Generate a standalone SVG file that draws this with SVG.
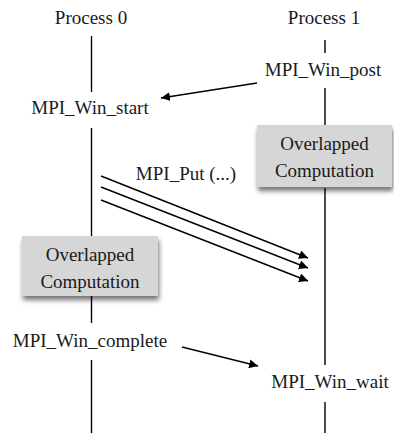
<svg xmlns="http://www.w3.org/2000/svg" width="394" height="433" viewBox="0 0 394 433">
<style>
text{font-size:19px;fill:#1a1a1a;text-anchor:middle}
.life{stroke:#000;stroke-width:1.4;fill:none}
.arr{stroke:#000;stroke-width:1.4;fill:none;marker-end:url(#ah)}
.box{fill:#d6d6d6;filter:url(#sh)}
</style>
<defs>
<marker id="ah" viewBox="0 0 10 10" refX="10" refY="5" markerWidth="9" markerHeight="9" markerUnits="userSpaceOnUse" orient="auto"><path d="M0,0 L10,5 L0,10 z" fill="#000"/></marker>
<filter id="sh" x="-20%" y="-20%" width="140%" height="150%"><feDropShadow dx="1" dy="4" stdDeviation="2.5" flood-color="#000" flood-opacity="0.55"/></filter>
</defs>
<g id="lifelines">
<path class="life" d="M91.5,36V92M91.5,128V236M91.5,296V323M91.5,360V433"/>
<path class="life" d="M325,40V53M325,88V125M325,188V365M325,402V433"/>
</g>
<g font-family="'Liberation Serif', 'Times New Roman', 'DejaVu Serif', serif">
<g id="process0"><text x="91" y="24">Process 0</text></g>
<g id="process1"><text x="324" y="24">Process 1</text></g>
<g id="win_post"><text x="323" y="76">MPI_Win_post</text></g>
<g id="win_start"><text x="90" y="114">MPI_Win_start</text></g>
<g id="overlap1"><rect class="box" x="257" y="125" width="135" height="62"/><text x="324.5" y="150">Overlapped</text><text x="324.5" y="177">Computation</text></g>
<g id="overlap0"><rect class="box" x="22" y="236" width="136" height="60"/><text x="90" y="261">Overlapped</text><text x="90" y="288">Computation</text></g>
<g id="put_label"><text x="186" y="180">MPI_Put (...)</text></g>
<g id="win_complete"><text x="90" y="347">MPI_Win_complete</text></g>
<g id="win_wait"><text x="330" y="388">MPI_Win_wait</text></g>
</g>
<g id="connectors">
<line class="arr" x1="257" y1="83" x2="161" y2="98"/>
<line class="arr" x1="101" y1="176" x2="308" y2="258"/>
<line class="arr" x1="101" y1="187" x2="308" y2="268"/>
<line class="arr" x1="101" y1="200" x2="308" y2="281"/>
<line class="arr" x1="182" y1="347" x2="258" y2="366"/>
</g>
</svg>
